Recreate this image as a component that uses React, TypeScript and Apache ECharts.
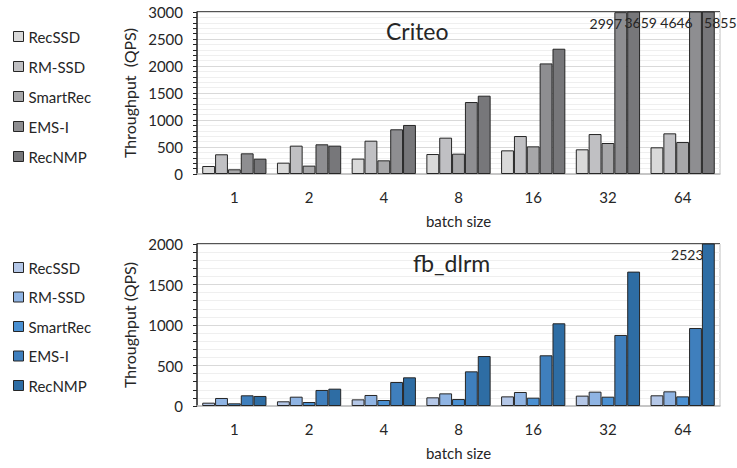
import React, { useEffect, useRef } from "react";
import * as echarts from "echarts";

const batchSizes = ["1", "2", "4", "8", "16", "32", "64"];
const seriesNames = ["RecSSD", "RM-SSD", "SmartRec", "EMS-I", "RecNMP"];

const criteoRecSSD = [148, 210, 285, 370, 438, 457, 494];
const criteoRMSSD = [365, 525, 617, 673, 703, 740, 753];
const criteoSmartRec = [87, 155, 253, 377, 512, 574, 592];
const criteoEMSI = [383, 550, 828, 1333, 2048, 2997, 4646];
const criteoRecNMP = [284, 525, 908, 1450, 2320, 3659, 5855];

const fbRecSSD = [41, 58, 82, 107, 119, 128, 132];
const fbRMSSD = [99, 115, 136, 156, 173, 177, 181];
const fbSmartRec = [33, 49, 74, 86, 103, 115, 119];
const fbEMSI = [132, 198, 296, 428, 626, 877, 963];
const fbRecNMP = [124, 214, 354, 617, 1021, 1659, 2523];

const criteoMax = 3000;
const fbMax = 2000;

const grayColors = ["#d9d9d9", "#c0c0c3", "#a7a7a9", "#8e8e91", "#77777a"];
const blueColors = ["#b4c7e7", "#8fb4e3", "#4a90d2", "#3f7fbd", "#2e6da4"];

// value labels near the top of the plot: series index -> data index -> x offset
const criteoLabelDx: Record<number, Record<number, number>> = {
  3: { 5: -15, 6: -19 },
  4: { 5: 7, 6: 12 },
};
const fbLabelDx: Record<number, Record<number, number>> = {
  4: { 6: -21 },
};

const FONT = "Lato, 'Open Sans', sans-serif";
const TEXT = "#262626";

export default function App() {
  const ref = useRef<HTMLDivElement>(null);
  useEffect(() => {
    if (!ref.current) return;
    const chart = echarts.init(ref.current, undefined, { renderer: "svg" });

    const criteoData = [criteoRecSSD, criteoRMSSD, criteoSmartRec, criteoEMSI, criteoRecNMP];
    const fbData = [fbRecSSD, fbRMSSD, fbSmartRec, fbEMSI, fbRecNMP];

    const makeSeries = (
      data: number[][],
      colors: string[],
      axisIndex: number,
      dxMap: Record<number, Record<number, number>>
    ) =>
      data.map((vals, si) => ({
        type: "bar",
        name: seriesNames[si],
        xAxisIndex: axisIndex,
        yAxisIndex: axisIndex,
        barGap: "0%",
        barCategoryGap: "14%",
        clip: true,
        itemStyle: { color: colors[si], borderColor: "#262626", borderWidth: 1 },
        data: vals.map((v, di) => {
          if (dxMap[si] && dxMap[si][di] !== undefined) {
            return {
              value: v,
              label: {
                show: true,
                position: "insideTop",
                distance: 4,
                offset: [dxMap[si][di], 0],
                formatter: String(v),
                color: TEXT,
                fontSize: 14,
                fontFamily: FONT,
              },
            };
          }
          return v;
        }),
      }));

    const xAxisCommon = (gridIndex: number) => ({
      type: "category",
      gridIndex,
      data: batchSizes,
      name: "batch size",
      nameLocation: "middle",
      nameGap: 39,
      nameTextStyle: { color: TEXT, fontSize: 15, fontFamily: FONT },
      axisLine: { show: true, lineStyle: { color: "#bfbfbf", width: 1.5 } },
      axisTick: { show: false },
      axisLabel: { color: TEXT, fontSize: 15, fontFamily: FONT, margin: 15 },
      splitLine: { show: false },
    });

    const yAxisCommon = (gridIndex: number, max: number, name: string) => ({
      type: "value",
      gridIndex,
      min: 0,
      max,
      interval: 500,
      name,
      nameLocation: "middle",
      nameGap: 60,
      nameTextStyle: { color: TEXT, fontSize: 16, fontFamily: FONT },
      axisLine: { show: true, lineStyle: { color: "#262626", width: 1.5 } },
      axisTick: { show: true, inside: false, length: 4, lineStyle: { color: "#262626" } },
      minorTick: { show: true, splitNumber: 5, length: 4, lineStyle: { color: "#262626" } },
      axisLabel: {
        color: TEXT,
        fontSize: 15,
        fontFamily: FONT,
        margin: 14,
        formatter: (v: number) => String(v),
      },
      splitLine: { show: true, lineStyle: { color: "#d9d9d9", width: 1 } },
      minorSplitLine: { show: true, lineStyle: { color: "#efefef", width: 1 } },
    });

    const legendCommon = (top: number, gap: number, colors: string[]) => ({
      orient: "vertical",
      left: 8,
      top,
      itemGap: gap,
      itemWidth: 10,
      itemHeight: 10,
      selectedMode: false,
      icon: "rect",
      textStyle: { color: TEXT, fontSize: 15, fontFamily: FONT },
      data: seriesNames.map((n, i) => ({
        name: n,
        itemStyle: { color: colors[i], borderColor: "#262626", borderWidth: 1 },
      })),
    });

    chart.setOption({
      animation: false,
      backgroundColor: "#ffffff",
      textStyle: { fontFamily: FONT },
      title: [
        {
          text: "Criteo",
          left: 381,
          top: 14,
          textStyle: { color: TEXT, fontSize: 23, fontWeight: "normal", fontFamily: FONT },
        },
        {
          text: "fb_dlrm",
          left: 408,
          top: 246,
          textStyle: { color: TEXT, fontSize: 23, fontWeight: "normal", fontFamily: FONT },
        },
      ],
      legend: [legendCommon(24, 15, grayColors), legendCommon(255, 14.5, blueColors)],
      grid: [
        { left: 197, right: 17, top: 12, height: 162, show: true, borderColor: "#bfbfbf", borderWidth: 1 },
        { left: 197, right: 17, top: 244, height: 162, show: true, borderColor: "#bfbfbf", borderWidth: 1 },
      ],
      xAxis: [xAxisCommon(0), xAxisCommon(1)],
      yAxis: [
        yAxisCommon(0, criteoMax, "Throughput  (QPS)"),
        yAxisCommon(1, fbMax, "Throughput (QPS)"),
      ],
      graphic: [
        { type: "line", shape: { x1: 197, y1: 12, x2: 720, y2: 12 }, style: { stroke: "#262626", lineWidth: 1.5 } },
        { type: "line", shape: { x1: 197, y1: 244, x2: 720, y2: 244 }, style: { stroke: "#262626", lineWidth: 1.5 } },
      ],
      series: [
        ...makeSeries(criteoData, grayColors, 0, criteoLabelDx),
        ...makeSeries(fbData, blueColors, 1, fbLabelDx),
      ],
    });

    return () => chart.dispose();
  }, []);

  return <div ref={ref} style={{ width: 737, height: 468, position: "absolute", left: 0, top: 0 }} />;
}
